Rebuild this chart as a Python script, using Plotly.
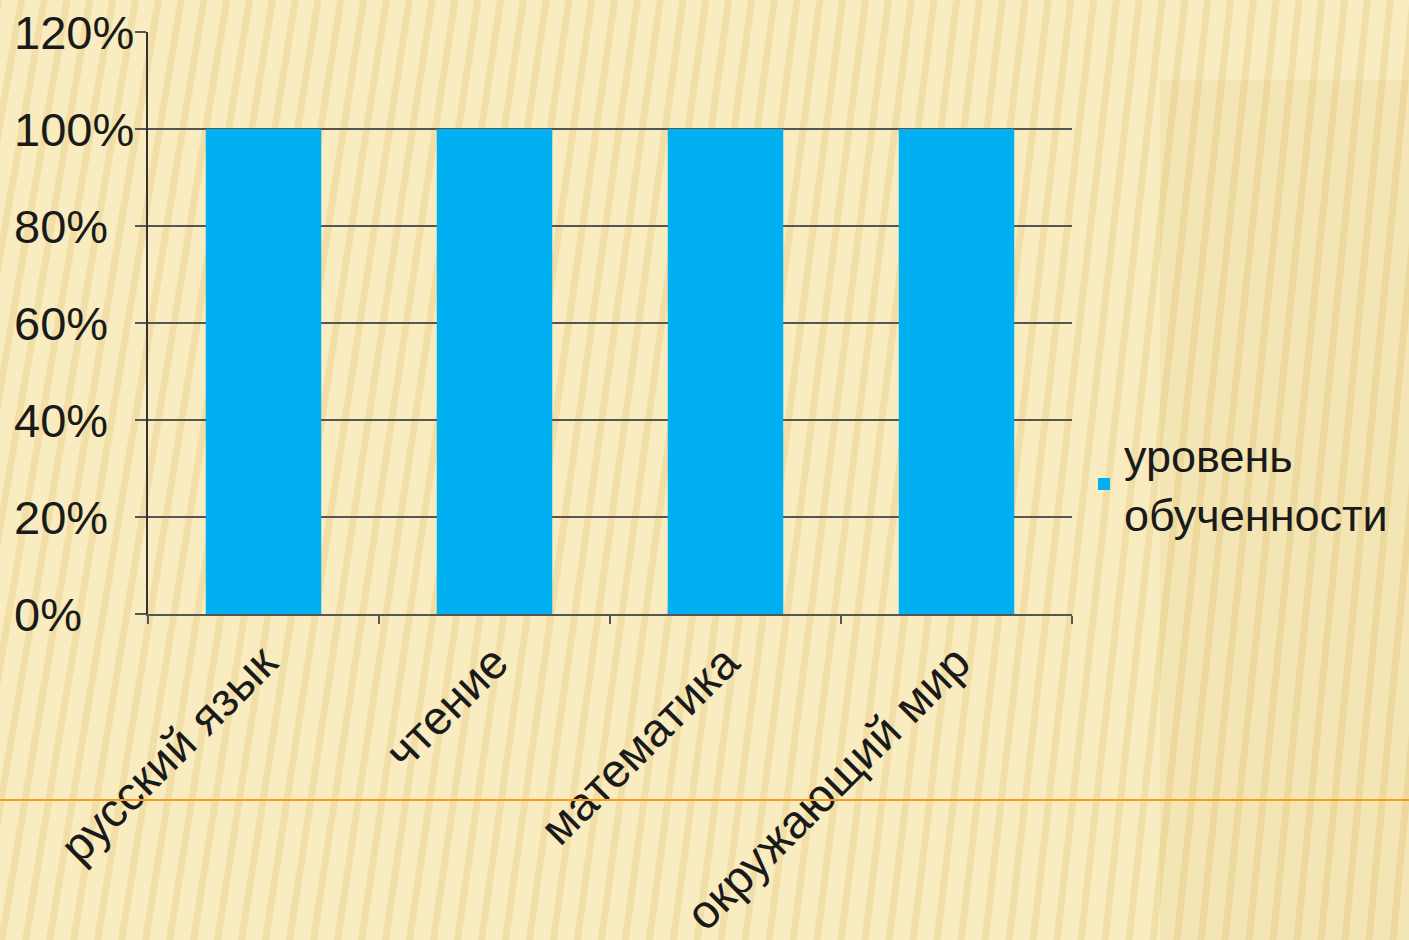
import plotly.graph_objects as go

# ---- data ----
categories = ["русский язык", "чтение", "математика", "окружающий мир"]
values = [1.0, 1.0, 1.0, 1.0]
series_name = "уровень<br>обученности"
y_tick_values = [0, 0.2, 0.4, 0.6, 0.8, 1.0, 1.2]
y_tick_labels = ["0%", "20%", "40%", "60%", "80%", "100%", "120%"]

W, H = 1409, 940
# plot area in page pixels
PX0, PX1, PY0, PY1 = 148, 1072, 32, 614
L, R, T, B = PX0, W - PX1, PY0, H - PY1
PW, PH = PX1 - PX0, PY1 - PY0


def px_x(x):
    return (x - PX0) / PW


def px_y(y):
    return (PY1 - y) / PH


FONT = "Liberation Sans, Arial, sans-serif"
BG = "#f9ecc0"

fig = go.Figure()
fig.add_trace(go.Bar(
    x=categories, y=values, name=series_name,
    marker=dict(color="#00b0f0", line=dict(width=0)),
    showlegend=True,
))

shapes = []
# background stripes (decoration)
for i in range(-10, 80):
    xb = i * 24
    xt = xb + 160 - i * 1.2
    shapes.append(dict(type="line", xref="paper", yref="paper", layer="below",
                       x0=px_x(xb), y0=px_y(H + 10), x1=px_x(xt), y1=px_y(-10),
                       line=dict(color="rgba(226,200,120,0.35)", width=7)))
# darker region at right
shapes.append(dict(type="rect", xref="paper", yref="paper", layer="below",
                   x0=px_x(1160), y0=px_y(H + 10), x1=px_x(W + 10), y1=px_y(80),
                   fillcolor="rgba(215,185,100,0.12)", line=dict(width=0)))
# orange separator line
shapes.append(dict(type="line", xref="paper", yref="paper", layer="above",
                   x0=px_x(0), x1=px_x(W + 10), y0=px_y(800), y1=px_y(800),
                   line=dict(color="#f39c1f", width=2)))

annotations = []
for v, lab in zip(y_tick_values, y_tick_labels):
    annotations.append(dict(x=px_x(12), xref="paper", y=v, yref="y",
                            text=lab, showarrow=False, xanchor="left", yanchor="middle",
                            font=dict(family=FONT, size=47, color="#1a1a1a")))

fig.update_layout(
    width=W, height=H,
    margin=dict(l=L, r=R, t=T, b=B, autoexpand=False),
    paper_bgcolor=BG,
    plot_bgcolor="rgba(0,0,0,0)",
    bargap=0.5,
    font=dict(family=FONT, color="#1a1a1a"),
    shapes=shapes,
    annotations=annotations,
    legend=dict(x=px_x(1084), y=px_y(484), xanchor="left", yanchor="middle",
                font=dict(family=FONT, size=45, color="#1a1a1a"),
                bgcolor="rgba(0,0,0,0)", itemwidth=30),
    xaxis=dict(
        automargin=False,
        tickangle=-45, tickson="boundaries", ticks="outside", ticklen=8,
        tickcolor="#555555", tickwidth=2,
        showline=True, linecolor="#555555", linewidth=2,
        showgrid=False,
        tickfont=dict(family=FONT, size=47, color="#1a1a1a"),
    ),
    yaxis=dict(
        automargin=False,
        range=[0, 1.2], tickvals=y_tick_values, showticklabels=False,
        ticks="outside", ticklen=11, tickcolor="#555555", tickwidth=2,
        showline=True, linecolor="#333333", linewidth=2,
        showgrid=True, gridcolor="#555555", gridwidth=2,
        zeroline=False,
    ),
)

fig.write_html("out.html", config={"displayModeBar": False},
               post_script="document.body.style.margin='0';document.body.style.background='" + BG + "';")
